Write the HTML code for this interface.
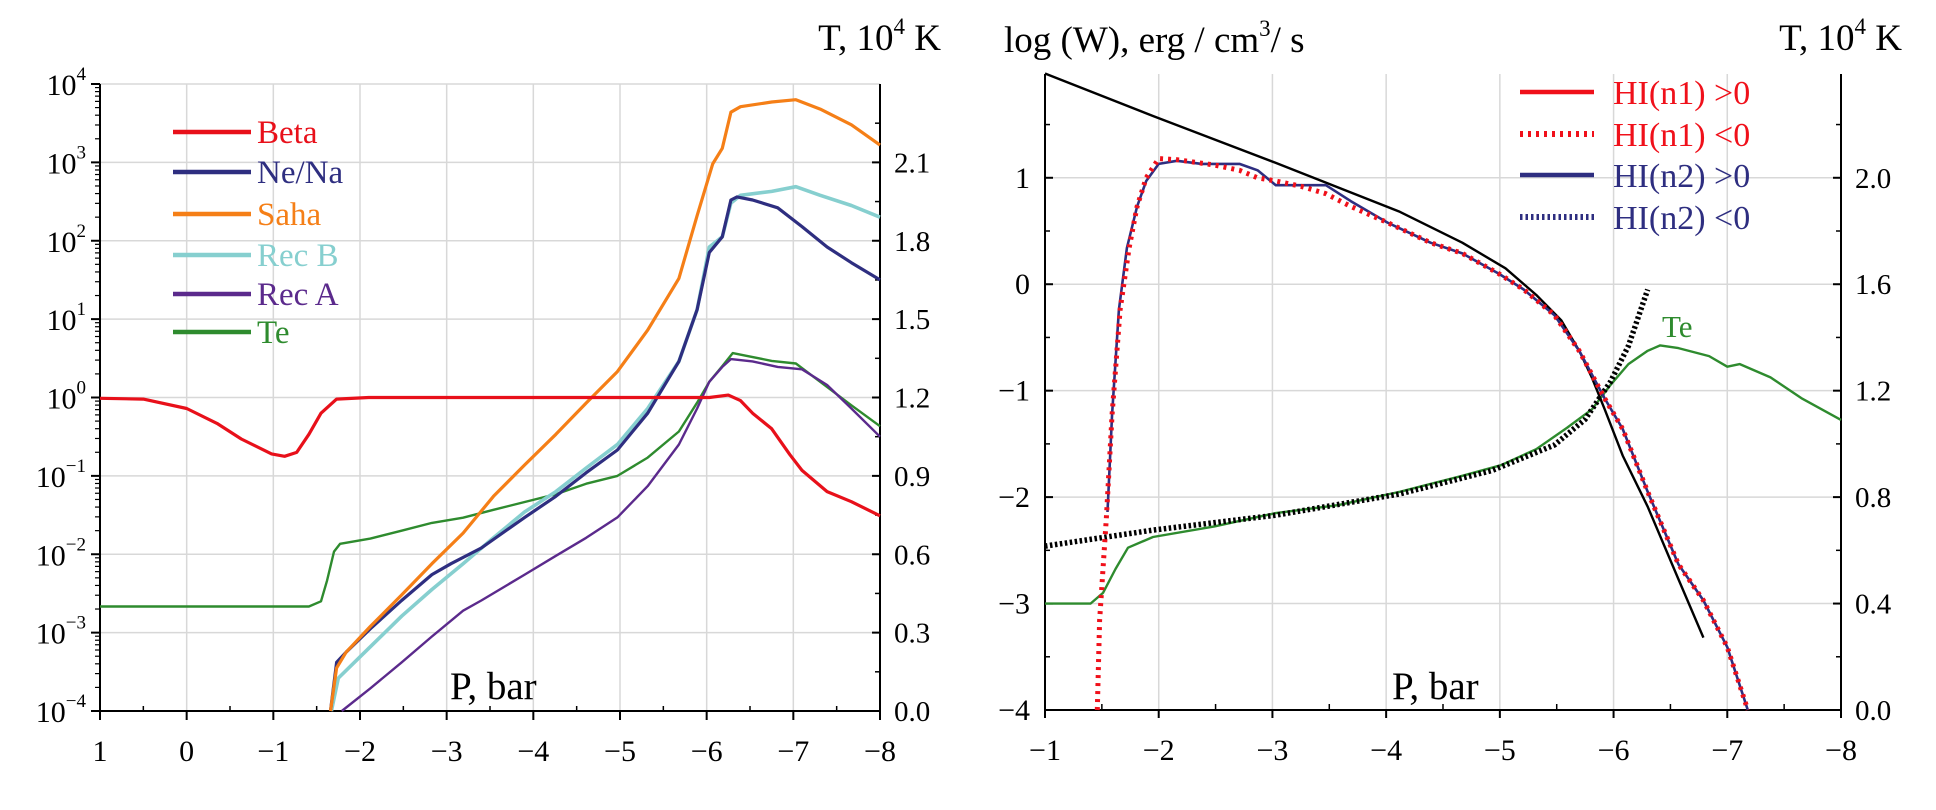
<!DOCTYPE html>
<html><head><meta charset="utf-8"><style>
html,body{margin:0;padding:0;background:#fff;}
svg{display:block;font-family:"Liberation Serif",serif;}
</style></head><body>
<svg id="c" width="1936" height="810" viewBox="0 0 1936 810">
<g id="L"></g>
<g id="R"></g>
</svg>
<script>
// ---------- left panel data ----------
const betaP=[1,0.5,0,-0.35,-0.63,-0.98,-1.13,-1.27,-1.41,-1.55,-1.73,-2.1,-5,-6.03,-6.25,-6.39,-6.53,-6.75,-6.96,-7.1,-7.39,-7.67,-8];
const betaV=[-0.01,-0.02,-0.14,-0.33,-0.53,-0.72,-0.75,-0.70,-0.47,-0.20,-0.02,0,0,0,0.03,-0.04,-0.2,-0.4,-0.73,-0.93,-1.2,-1.33,-1.51];
const sahaP=[-1.66,-1.73,-1.84,-2.12,-2.48,-2.83,-3.19,-3.54,-3.9,-4.26,-4.61,-4.97,-5.32,-5.68,-5.89,-6.07,-6.18,-6.28,-6.39,-6.75,-7.03,-7.31,-7.67,-8];
const sahaV=[-4,-3.45,-3.25,-2.92,-2.52,-2.12,-1.73,-1.26,-0.86,-0.47,-0.07,0.33,0.86,1.52,2.32,2.98,3.18,3.64,3.71,3.77,3.8,3.68,3.48,3.22];
const neP=[-1.66,-1.73,-1.84,-2.12,-2.48,-2.83,-3.05,-3.4,-3.9,-4.26,-4.61,-4.97,-5.32,-5.68,-5.89,-6.03,-6.18,-6.28,-6.35,-6.53,-6.82,-7.1,-7.39,-7.67,-8];
const neV=[-4,-3.38,-3.25,-2.95,-2.59,-2.26,-2.12,-1.92,-1.53,-1.26,-0.96,-0.67,-0.2,0.46,1.12,1.85,2.05,2.52,2.56,2.52,2.42,2.18,1.92,1.72,1.5];
const recBP=[-1.67,-1.75,-2.12,-2.48,-2.83,-3.19,-3.54,-3.9,-4.26,-4.61,-4.97,-5.32,-5.68,-5.89,-6.03,-6.18,-6.28,-6.39,-6.75,-7.03,-7.31,-7.67,-8];
const recBV=[-4,-3.58,-3.18,-2.79,-2.45,-2.12,-1.79,-1.46,-1.2,-0.9,-0.6,-0.14,0.46,1.12,1.92,2.05,2.48,2.58,2.63,2.69,2.58,2.45,2.3];
const recAP=[-1.79,-2.12,-2.48,-2.83,-3.19,-3.4,-3.9,-4.26,-4.61,-4.97,-5.32,-5.68,-5.89,-6.03,-6.18,-6.28,-6.53,-6.82,-7.1,-7.39,-7.67,-8];
const recAV=[-4,-3.71,-3.38,-3.05,-2.72,-2.59,-2.26,-2.02,-1.79,-1.53,-1.13,-0.6,-0.14,0.2,0.39,0.49,0.46,0.39,0.36,0.16,-0.14,-0.5];
const teLP=[1,-1.41,-1.55,-1.62,-1.7,-1.77,-2.12,-2.48,-2.83,-3.19,-3.54,-3.9,-4.26,-4.61,-4.97,-5.32,-5.68,-5.89,-6.03,-6.18,-6.3,-6.45,-6.75,-7.03,-7.31,-7.67,-8];
const teLT=[0.4,0.4,0.42,0.5,0.61,0.64,0.66,0.69,0.72,0.74,0.77,0.8,0.83,0.87,0.9,0.97,1.07,1.18,1.26,1.32,1.37,1.36,1.34,1.33,1.26,1.17,1.09];
const leftYTicks=[-4,-3,-2,-1,0,1,2,3,4];
const leftTTicks=["0.0","0.3","0.6","0.9","1.2","1.5","1.8","2.1"];
const leftXTicks=[1,0,-1,-2,-3,-4,-5,-6,-7,-8];
// ---------- right panel data ----------
const blkP=[-1,-1.95,-3.03,-4.12,-4.67,-5.05,-5.32,-5.54,-5.7,-5.81,-5.92,-6.08,-6.3,-6.57,-6.79];
const blkW=[1.98,1.58,1.14,0.68,0.39,0.15,-0.1,-0.34,-0.63,-0.88,-1.17,-1.61,-2.09,-2.77,-3.32];
const n2pP=[-1.55,-1.59,-1.65,-1.72,-1.81,-1.89,-2.0,-2.16,-2.38,-2.71,-2.87,-3.03,-3.25,-3.47,-3.69,-4.01,-4.39,-4.67,-4.99,-5.21,-5.48,-5.7,-5.92,-6.08,-6.3,-6.57,-6.79,-7.0,-7.18];
const n2pW=[-2.14,-1.22,-0.24,0.34,0.73,0.97,1.13,1.16,1.13,1.13,1.07,0.93,0.93,0.93,0.78,0.58,0.39,0.29,0.1,-0.05,-0.29,-0.63,-1.07,-1.36,-1.95,-2.63,-2.97,-3.41,-4];
const n1nP=[-1.46,-1.48,-1.54,-1.59,-1.66,-1.74,-1.81,-1.89,-2.0,-2.16,-2.49,-2.71,-2.87,-3.03,-3.25,-3.47,-3.69,-4.01,-4.39,-4.67,-4.99,-5.21,-5.48,-5.7,-5.92,-6.08,-6.3,-6.57,-6.79,-7.0,-7.18];
const n1nW=[-4,-3.16,-2.19,-1.22,-0.24,0.34,0.73,1.0,1.18,1.17,1.12,1.07,1.0,0.97,0.92,0.85,0.73,0.58,0.39,0.29,0.1,-0.05,-0.29,-0.63,-1.07,-1.36,-1.95,-2.63,-2.97,-3.41,-4];
const n2nP=[-1,-1.95,-3.03,-4.12,-4.93,-5.48,-5.75,-5.97,-6.13,-6.3];
const n2nW=[-2.46,-2.31,-2.17,-1.97,-1.75,-1.51,-1.27,-0.92,-0.58,-0.05];
const teRP=[-1,-1.4,-1.51,-1.62,-1.73,-1.95,-2.49,-3.03,-3.58,-4.12,-4.67,-5.01,-5.32,-5.59,-5.81,-5.97,-6.13,-6.3,-6.41,-6.57,-6.84,-7.0,-7.11,-7.38,-7.66,-8];
const teRT=[0.4,0.4,0.44,0.53,0.61,0.65,0.69,0.74,0.77,0.82,0.88,0.92,0.98,1.06,1.13,1.22,1.3,1.35,1.37,1.36,1.33,1.29,1.3,1.25,1.17,1.09];
const rightYTicks=[-4,-3,-2,-1,0,1];
const rightTTicks=["0.0","0.4","0.8","1.2","1.6","2.0"];
const rightXTicks=[-1,-2,-3,-4,-5,-6,-7,-8];

const NS="http://www.w3.org/2000/svg";
function el(parent,tag,attrs,text){const e=document.createElementNS(NS,tag);for(const k in attrs)e.setAttribute(k,attrs[k]);if(text!==undefined)e.textContent=text;parent.appendChild(e);return e;}
function pathD(xs,ys,fx,fy){return xs.map((x,i)=>(i?'L':'M')+fx(x).toFixed(1)+','+fy(ys[i]).toFixed(1)).join('');}

// ===== LEFT =====
const L=document.getElementById('L');
const lx0=100,lx1=880,ly0=84,ly1=711;
const lX=p=>lx0+(1-p)/9*(lx1-lx0);
const lY=v=>ly1-(v+4)/8*(ly1-ly0);
const lT=t=>ly1-t/2.4*(ly1-ly0);
leftXTicks.forEach(p=>{const g=el(L,'line',{x1:lX(p),x2:lX(p),y1:ly0,y2:ly1,stroke:'#d8d8d8','stroke-width':1.5});});
leftYTicks.forEach(v=>{const g=el(L,'line',{x1:lx0,x2:lx1,y1:lY(v),y2:lY(v),stroke:'#d8d8d8','stroke-width':1.5});});
let a=el(L,'path',{d:`M${lx0},${ly0}V${ly1}H${lx1}M${lx1},${ly0}V${ly1+8}`,stroke:'#000','stroke-width':2,fill:'none'});

leftYTicks.forEach(v=>{
  el(L,'line',{x1:lx0-9,x2:lx0,y1:lY(v),y2:lY(v),stroke:'#000','stroke-width':2});
  if(v<4)for(let m=2;m<10;m++){const yy=lY(v+Math.log10(m));el(L,'line',{x1:lx0-5,x2:lx0,y1:yy,y2:yy,stroke:'#000','stroke-width':1.2});}
  const t=el(L,'text',{x:lx0-14,y:lY(v)+11,'font-size':30,'text-anchor':'end'});
  
  t.appendChild(document.createTextNode('10'));
  el(t,'tspan',{dy:-15,'font-size':19},(v<0?'\u2212'+(-v):''+v));
});
leftXTicks.forEach((p,i)=>{
  el(L,'line',{x1:lX(p),x2:lX(p),y1:ly1,y2:ly1+9,stroke:'#000','stroke-width':2});
  if(i<leftXTicks.length-1)el(L,'line',{x1:lX(p-0.5),x2:lX(p-0.5),y1:ly1-5,y2:ly1,stroke:'#000','stroke-width':1.5});
  const t=el(L,'text',{x:lX(p),y:ly1+50,'font-size':30,'text-anchor':'middle'},p<0?'\u2212'+(-p):''+p);
  
});
leftTTicks.forEach((s,i)=>{
  const t0=parseFloat(s);
  el(L,'line',{x1:lx1-8,x2:lx1,y1:lT(t0),y2:lT(t0),stroke:'#000','stroke-width':2});
  el(L,'line',{x1:lx1-5,x2:lx1,y1:lT(t0+0.15),y2:lT(t0+0.15),stroke:'#000','stroke-width':1.5});
  const t=el(L,'text',{x:lx1+14,y:lT(t0)+10,'font-size':29},s);
  
});
function lSeries(xs,ys,fy,color,name,w){const p=el(L,'path',{d:pathD(xs,ys,lX,fy),stroke:color,'stroke-width':w,fill:'none','stroke-linejoin':'round'});}
lSeries(teLP,teLT,lT,'#2e8b2e','te-line',2.4);
lSeries(recAP,recAV,lY,'#5b2a8c','rec-a-line',2.4);
lSeries(recBP,recBV,lY,'#86cfcf','rec-b-line',3.6);
lSeries(neP,neV,lY,'#2e2e80','ne-na-line',3.2);
lSeries(sahaP,sahaV,lY,'#f57f17','saha-line',3.2);
lSeries(betaP,betaV,lY,'#e8101a','beta-line',3.2);
const legL=[['Beta','#e8101a'],['Ne/Na','#2e2e80'],['Saha','#f57f17'],['Rec B','#86cfcf'],['Rec A','#5b2a8c'],['Te','#2e8b2e']];
const legY=[132,172,214,255,294,332];
legL.forEach((e,i)=>{
  const l=el(L,'line',{x1:173,x2:251,y1:legY[i],y2:legY[i],stroke:e[1],'stroke-width':4.5});
  
  const t=el(L,'text',{x:257,y:legY[i]+11,'font-size':33,fill:e[1]},e[0]);
  
});
let tt=el(L,'text',{x:941,y:50,'font-size':37,'text-anchor':'end'});

tt.appendChild(document.createTextNode('T, 10'));el(tt,'tspan',{dy:-16,'font-size':23},'4');el(tt,'tspan',{dy:16},'\u00a0K');
tt=el(L,'text',{x:450,y:699,'font-size':39},'P, bar');


// ===== RIGHT =====
const R=document.getElementById('R');
const rx0=1045,rx1=1841,ry0=74,ry1=710;
const rX=p=>rx0+(-1-p)/7*(rx1-rx0);
const rY=w=>ry1-(w+4)/5.975*(ry1-ry0);
const rT=t=>ry1-t/2.39*(ry1-ry0);
rightXTicks.forEach(p=>{const g=el(R,'line',{x1:rX(p),x2:rX(p),y1:ry0,y2:ry1,stroke:'#d8d8d8','stroke-width':1.5});});
rightYTicks.forEach(v=>{const g=el(R,'line',{x1:rx0,x2:rx1,y1:rY(v),y2:rY(v),stroke:'#d8d8d8','stroke-width':1.5});});
a=el(R,'path',{d:`M${rx0},${ry0}V${ry1}H${rx1}M${rx1},${ry0}V${ry1+8}M${rx0},${ry1}V${ry1+8}`,stroke:'#000','stroke-width':2,fill:'none'});

rightYTicks.forEach(v=>{
  el(R,'line',{x1:rx0,x2:rx0+8,y1:rY(v),y2:rY(v),stroke:'#000','stroke-width':2});
  el(R,'line',{x1:rx0,x2:rx0+5,y1:rY(v+0.5),y2:rY(v+0.5),stroke:'#000','stroke-width':1.5});
  const t=el(R,'text',{x:rx0-15,y:rY(v)+10,'font-size':30,'text-anchor':'end'},v<0?'\u2212'+(-v):''+v);
  
});
rightXTicks.forEach((p,i)=>{
  el(R,'line',{x1:rX(p),x2:rX(p),y1:ry1,y2:ry1+8,stroke:'#000','stroke-width':2});
  if(i<rightXTicks.length-1)el(R,'line',{x1:rX(p-0.5),x2:rX(p-0.5),y1:ry1-6,y2:ry1,stroke:'#000','stroke-width':1.5});
  const t=el(R,'text',{x:rX(p),y:ry1+50,'font-size':30,'text-anchor':'middle'},'\u2212'+(-p));
  
});
rightTTicks.forEach(s=>{
  const t0=parseFloat(s);
  el(R,'line',{x1:rx1-8,x2:rx1,y1:rT(t0),y2:rT(t0),stroke:'#000','stroke-width':2});
  el(R,'line',{x1:rx1-5,x2:rx1,y1:rT(t0+0.2),y2:rT(t0+0.2),stroke:'#000','stroke-width':1.5});
  const t=el(R,'text',{x:rx1+14,y:rT(t0)+10,'font-size':29},s);
  
});
function rSeries(xs,ys,fy,color,name,w,dash){const at={d:pathD(xs,ys,rX,fy),stroke:color,'stroke-width':w,fill:'none','stroke-linejoin':'round'};if(dash)at['stroke-dasharray']=dash;const p=el(R,'path',at);}
rSeries(teRP,teRT,rT,'#2e8b2e','te-line',2.4);
rSeries(blkP,blkW,rY,'#000','total-line',2.4);
rSeries(n2nP,n2nW,rY,'#000','hi-n2-negative',5.5,'2.5,2.5');
rSeries(n2pP,n2pW,rY,'#2e2e80','hi-n2-positive',2.6);
rSeries(n1nP,n1nW,rY,'#f0101a','hi-n1-negative',5,'3,5');
const legR=[['HI(n1) >0','#f0101a',''],['HI(n1) <0','#f0101a','3,5'],['HI(n2) >0','#2e2e80',''],['HI(n2) <0','#2e2e80','2.5,3']];
const legRY=[92,134,175,217];
legR.forEach((e,i)=>{
  const at={x1:1520,x2:1594,y1:legRY[i],y2:legRY[i],stroke:e[1],'stroke-width':e[2]?6:4.5};
  if(e[2])at['stroke-dasharray']=e[2];
  const l=el(R,'line',at);
  const t=el(R,'text',{x:1613,y:legRY[i]+12,'font-size':34,fill:e[1]},e[0]);
  
});
tt=el(R,'text',{x:1004,y:52,'font-size':37});

tt.appendChild(document.createTextNode('log (W), erg / cm'));el(tt,'tspan',{dy:-16,'font-size':23},'3');el(tt,'tspan',{dy:16},'/ s');
tt=el(R,'text',{x:1902,y:50,'font-size':37,'text-anchor':'end'});

tt.appendChild(document.createTextNode('T, 10'));el(tt,'tspan',{dy:-16,'font-size':23},'4');el(tt,'tspan',{dy:16},'\u00a0K');
tt=el(R,'text',{x:1392,y:699,'font-size':39},'P, bar');

tt=el(R,'text',{x:1662,y:337,'font-size':31,fill:'#2e8b2e'},'Te');

</script>
</body></html>
